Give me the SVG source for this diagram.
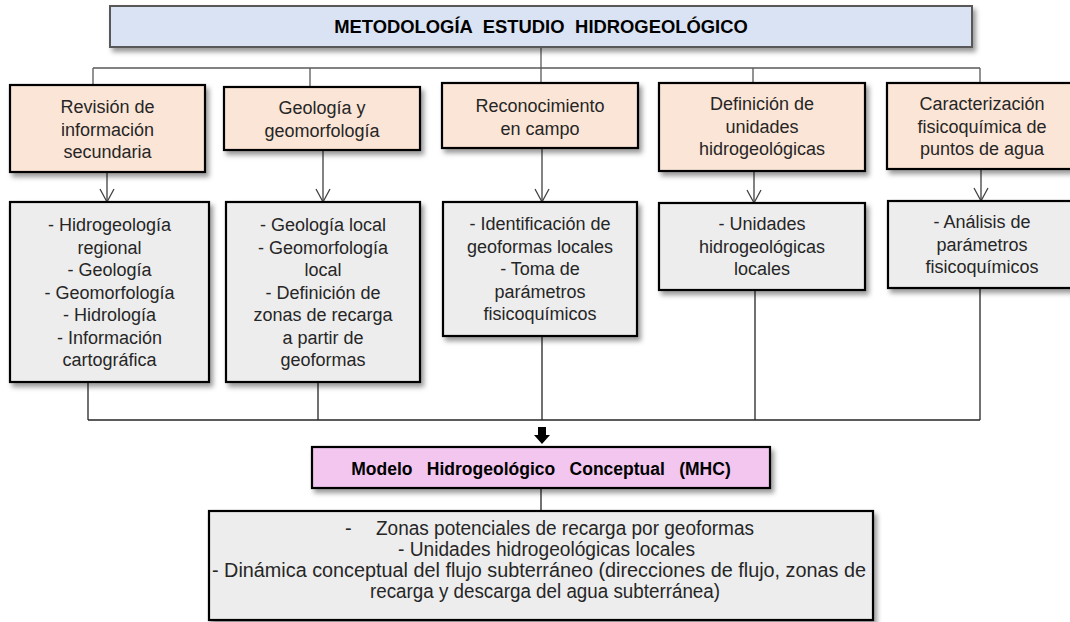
<svg xmlns="http://www.w3.org/2000/svg" width="1070" height="622" viewBox="0 0 1070 622">
<defs>
<filter id="sh" x="-10%" y="-10%" width="130%" height="140%">
<feDropShadow dx="3" dy="4" stdDeviation="2.5" flood-color="#000" flood-opacity="0.4"/>
</filter>
<marker id="vee" markerUnits="userSpaceOnUse" markerWidth="20" markerHeight="20" refX="0" refY="0" orient="auto" viewBox="-16 -10 20 20" overflow="visible">
<path d="M-13,-7 L0,0 L-13,7" fill="none" stroke="#404040" stroke-width="1.3"/>
</marker>
<style>
.t{font-family:"Liberation Sans",Arial,sans-serif;font-size:18px;fill:#262626;text-anchor:middle}
.b{font-family:"Liberation Sans",Arial,sans-serif;font-weight:bold;fill:#000;text-anchor:middle}
.l{font-family:"Liberation Sans",Arial,sans-serif;font-size:20px;fill:#262626}
.peach{fill:#fbe5d6;stroke:#000;stroke-width:2.2;filter:url(#sh)}
.grey{fill:#ededed;stroke:#000;stroke-width:2.2;filter:url(#sh)}
.tree{fill:none;stroke:#595959;stroke-width:1.3}
.conn{fill:none;stroke:#262626;stroke-width:1.3}
.arr{fill:none;stroke:#404040;stroke-width:1.3;marker-end:url(#vee)}
</style>
</defs>

<g id="connectors">
<path class="tree" d="M541,47 V68 M93,68 H980 M93,68 V85 M310,68 V87 M541,68 V83 M753,68 V83 M980,68 V83"/>
<path class="arr" d="M107,172 V202"/>
<path class="arr" d="M323,150 V202"/>
<path class="arr" d="M542,148 V202"/>
<path class="arr" d="M754,171 V203"/>
<path class="arr" d="M981,165 V201"/>
<path class="conn" d="M88,382 V420 M318,382 V420 M542,336 V420 M755,290 V420 M980,288 V420 M88,420 H980"/>
<polygon points="538,427 546,427 546,435 550,435 542,444 534,435 538,435" fill="#000"/>
<path class="conn" d="M541,488 V511"/>
</g>

<g id="title">
<rect x="110" y="6" width="862" height="41" fill="#dae3f3" stroke="#595959" stroke-width="2" filter="url(#sh)"/>
<text class="b" x="541" y="33" font-size="18.4" word-spacing="5.5">METODOLOGÍA ESTUDIO HIDROGEOLÓGICO</text>
</g>

<g id="n1">
<rect class="peach" x="10" y="85" width="195" height="87"/>
<text class="t"><tspan x="107.5" y="113">Revisión de</tspan><tspan x="107.5" y="135.5">información</tspan><tspan x="107.5" y="158">secundaria</tspan></text>
</g>
<g id="n2">
<rect class="peach" x="224" y="87" width="196" height="63"/>
<text class="t"><tspan x="322" y="114">Geología y</tspan><tspan x="322" y="137">geomorfología</tspan></text>
</g>
<g id="n3">
<rect class="peach" x="442" y="83" width="196" height="65"/>
<text class="t"><tspan x="540" y="112">Reconocimiento</tspan><tspan x="540" y="134.5">en campo</tspan></text>
</g>
<g id="n4">
<rect class="peach" x="659" y="83" width="206" height="88"/>
<text class="t"><tspan x="762" y="110">Definición de</tspan><tspan x="762" y="132.5">unidades</tspan><tspan x="762" y="155">hidrogeológicas</tspan></text>
</g>
<g id="n5">
<rect class="peach" x="887" y="83" width="190" height="86"/>
<text class="t"><tspan x="982" y="110">Caracterización</tspan><tspan x="982" y="132.5">fisicoquímica de</tspan><tspan x="982" y="155">puntos de agua</tspan></text>
</g>

<g id="d1">
<rect class="grey" x="10" y="202" width="199" height="180"/>
<text class="t"><tspan x="109.5" y="231">- Hidrogeología</tspan><tspan x="109.5" y="253.5">regional</tspan><tspan x="109.5" y="276">- Geología</tspan><tspan x="109.5" y="298.5">- Geomorfología</tspan><tspan x="109.5" y="321">- Hidrología</tspan><tspan x="109.5" y="343.5">- Información</tspan><tspan x="109.5" y="366">cartográfica</tspan></text>
</g>
<g id="d2">
<rect class="grey" x="226" y="202" width="194" height="180"/>
<text class="t"><tspan x="323" y="231">- Geología local</tspan><tspan x="323" y="253.5">- Geomorfología</tspan><tspan x="323" y="276">local</tspan><tspan x="323" y="298.5">- Definición de</tspan><tspan x="323" y="321">zonas de recarga</tspan><tspan x="323" y="343.5">a partir de</tspan><tspan x="323" y="366">geoformas</tspan></text>
</g>
<g id="d3">
<rect class="grey" x="443" y="202" width="194" height="134"/>
<text class="t"><tspan x="540" y="230">- Identificación de</tspan><tspan x="540" y="252.5">geoformas locales</tspan><tspan x="540" y="275">- Toma de</tspan><tspan x="540" y="297.5">parámetros</tspan><tspan x="540" y="320">fisicoquímicos</tspan></text>
</g>
<g id="d4">
<rect class="grey" x="659" y="203" width="206" height="87"/>
<text class="t"><tspan x="762" y="230">- Unidades</tspan><tspan x="762" y="252.5">hidrogeológicas</tspan><tspan x="762" y="275">locales</tspan></text>
</g>
<g id="d5">
<rect class="grey" x="888" y="201" width="190" height="87"/>
<text class="t"><tspan x="982" y="228">- Análisis de</tspan><tspan x="982" y="250.5">parámetros</tspan><tspan x="982" y="273">fisicoquímicos</tspan></text>
</g>

<g id="mhc">
<rect x="312" y="447" width="458" height="41" fill="#f2c6ef" stroke="#000" stroke-width="2.2" filter="url(#sh)"/>
<text class="b" x="541" y="475" font-size="17.5" word-spacing="9.5">Modelo Hidrogeológico Conceptual (MHC)</text>
</g>

<g id="result">
<rect class="grey" x="209" y="511" width="664" height="109"/>
<text class="l"><tspan x="345" y="535">-</tspan><tspan x="376" y="535" textLength="378" lengthAdjust="spacingAndGlyphs">Zonas potenciales de recarga por geoformas</tspan></text>
<text class="l" x="398" y="556" textLength="297" lengthAdjust="spacingAndGlyphs">- Unidades hidrogeológicas locales</text>
<text class="l" x="212" y="577" textLength="654" lengthAdjust="spacingAndGlyphs">- Dinámica conceptual del flujo subterráneo (direcciones de flujo, zonas de</text>
<text class="l" x="370" y="598" textLength="350" lengthAdjust="spacingAndGlyphs">recarga y descarga del agua subterránea)</text>
</g>
</svg>
